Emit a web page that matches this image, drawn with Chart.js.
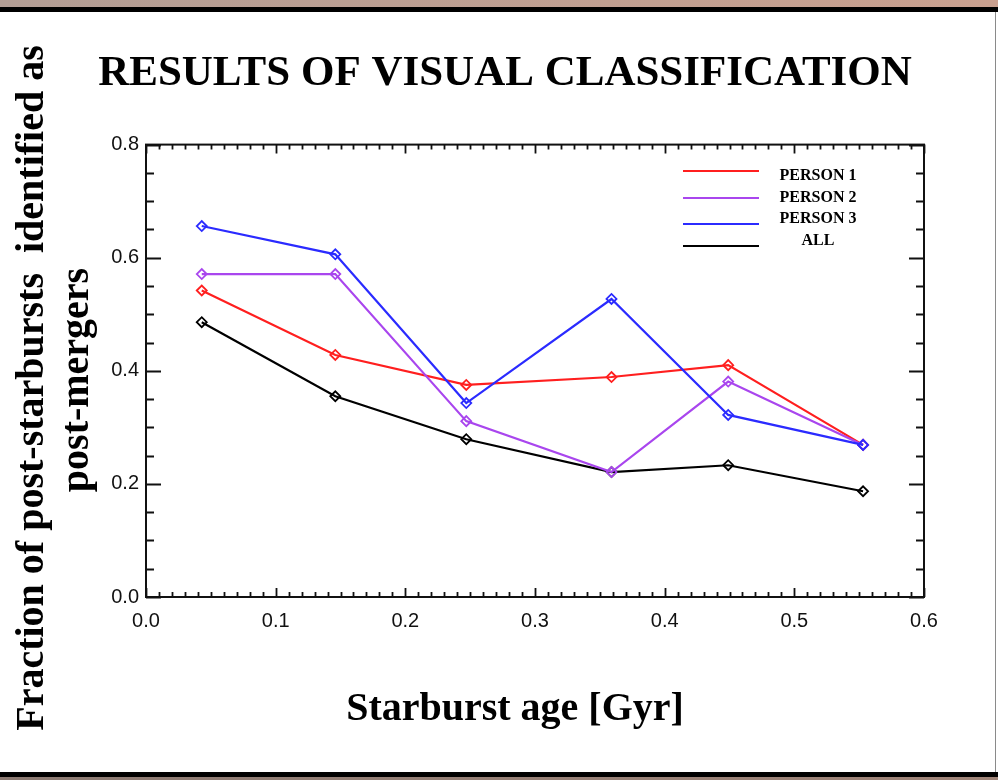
<!DOCTYPE html>
<html>
<head>
<meta charset="utf-8">
<title>Results of visual classification</title>
<script src="https://cdn.jsdelivr.net/npm/chart.js@4.4.1/dist/chart.umd.min.js"></script>
<style>
  html, body { margin: 0; padding: 0; }
  body { width: 998px; height: 780px; position: relative; overflow: hidden; background: #fff; }
  .band { position: absolute; left: 0; width: 998px; }
  #topBand { top: 0; height: 7px; background: linear-gradient(to right, #b29d94, #c9a08f); }
  #topBlack { top: 7px; height: 5px; background: #000; }
  #page { top: 12px; height: 760px; background: #fff; width: 995px; border-right: 1px solid #8a8a8a; }
  #botBlack { top: 772px; height: 5px; background: #000; }
  #botBand { top: 777px; height: 3px; background: linear-gradient(to right, #8c7a72, #a08478); }
  #chart { position: absolute; left: 0; top: 0; }
</style>
</head>
<body>
<div class="band" id="topBand"></div>
<div class="band" id="topBlack"></div>
<div class="band" id="page"></div>
<div class="band" id="botBlack"></div>
<div class="band" id="botBand"></div>
<canvas id="chart" width="998" height="780"></canvas>

<script>
// starburst age of each bin [Gyr]
const ages = [0.043, 0.146, 0.247, 0.359, 0.449, 0.553];

// fraction identified as post-mergers
const person1 = [0.542, 0.428, 0.375, 0.389, 0.410, 0.269];
const person2 = [0.571, 0.571, 0.311, 0.221, 0.381, 0.269];
const person3 = [0.656, 0.606, 0.343, 0.527, 0.322, 0.269];
const allVotes = [0.486, 0.355, 0.279, 0.221, 0.233, 0.187];

const seriesNames = ["PERSON 1", "PERSON 2", "PERSON 3", "ALL"];
const seriesColors = ["#ff1f1f", "#a946ee", "#2b2bff", "#000000"];

const xTicks = [0.0, 0.1, 0.2, 0.3, 0.4, 0.5, 0.6];
const yTicks = [0.0, 0.2, 0.4, 0.6, 0.8];

const chartTitle = "RESULTS OF VISUAL CLASSIFICATION";
const xTitle = "Starburst age [Gyr]";
const yTitle = ["Fraction of post-starbursts  identified as", "post-mergers"];

const serif = '"Liberation Serif", "Times New Roman", serif';
const sans = '"Liberation Sans", Arial, sans-serif';

function makeDataset(label, values, color, order) {
    return {
        label: label,
        data: ages.map((a, i) => ({ x: a, y: values[i] })),
        borderColor: color,
        backgroundColor: "rgba(0,0,0,0)",
        borderWidth: 2.2,
        pointStyle: "rectRot",
        pointRadius: 5,
        pointBorderWidth: 1.8,
        pointBorderColor: color,
        pointBackgroundColor: "rgba(0,0,0,0)",
        tension: 0,
        order: order
    };
}

// box round the plot with inward ticks, major and minor, on all four sides
const frameTicks = {
    id: "frameTicks",
    afterDraw(chart) {
        const { ctx, chartArea: a, scales: { x, y } } = chart;
        ctx.save();
        ctx.strokeStyle = "#111";
        ctx.lineWidth = 2;
        ctx.strokeRect(a.left, a.top, a.right - a.left, a.bottom - a.top);

        ctx.beginPath();
        for (let i = 0; i <= 60; i++) {
            let px = Math.round(x.getPixelForValue(i * 0.01)) + 0.5;
            let len = i % 10 === 0 ? 9 : 5;
            ctx.moveTo(px, a.bottom); ctx.lineTo(px, a.bottom - len);
            ctx.moveTo(px, a.top); ctx.lineTo(px, a.top + len);
        }
        for (let i = 0; i <= 16; i++) {
            let py = Math.round(y.getPixelForValue(i * 0.05)) + 0.5;
            let len = i % 4 === 0 ? 15 : 8;
            ctx.moveTo(a.left, py); ctx.lineTo(a.left + len, py);
            ctx.moveTo(a.right, py); ctx.lineTo(a.right - len, py);
        }
        ctx.lineWidth = 1.8;
        ctx.stroke();
        ctx.restore();
    }
};

// legend box inside the plot, top right
const innerLegend = {
    id: "innerLegend",
    afterDraw(chart) {
        const ctx = chart.ctx;
        const lineY = [171, 198, 224, 246];
        const textY = [176, 198, 219, 241];
        ctx.save();
        ctx.font = "bold 16px " + serif;
        ctx.textAlign = "center";
        ctx.textBaseline = "middle";
        chart.data.datasets.forEach((ds, i) => {
            ctx.strokeStyle = ds.borderColor;
            ctx.lineWidth = 2;
            ctx.beginPath();
            ctx.moveTo(683, lineY[i]);
            ctx.lineTo(759, lineY[i]);
            ctx.stroke();
            ctx.fillStyle = "#000";
            ctx.fillText(ds.label, 818, textY[i]);
        });
        ctx.restore();
    }
};

// axis titles
const axisTitles = {
    id: "axisTitles",
    afterDraw(chart) {
        const ctx = chart.ctx;
        ctx.save();
        ctx.fillStyle = "#000";
        ctx.font = "bold 40px " + serif;
        ctx.textAlign = "center";
        ctx.textBaseline = "alphabetic";
        ctx.fillText(xTitle, 515, 720);

        ctx.save();
        ctx.translate(43, 388);
        ctx.rotate(-Math.PI / 2);
        ctx.fillText(yTitle[0], 0, 0);
        ctx.restore();

        ctx.translate(88, 380);
        ctx.rotate(-Math.PI / 2);
        ctx.fillText(yTitle[1], 0, 0);
        ctx.restore();
    }
};

new Chart(document.getElementById("chart"), {
    type: "line",
    data: {
        datasets: [
            makeDataset(seriesNames[0], person1, seriesColors[0], 2),
            makeDataset(seriesNames[1], person2, seriesColors[1], 1),
            makeDataset(seriesNames[2], person3, seriesColors[2], 0),
            makeDataset(seriesNames[3], allVotes, seriesColors[3], 3)
        ]
    },
    options: {
        responsive: false,
        animation: false,
        layout: { padding: { left: 86, right: 74, top: 0, bottom: 0 } },
        plugins: {
            legend: { display: false },
            tooltip: { enabled: false },
            title: {
                display: true,
                text: chartTitle,
                color: "#000",
                font: { family: serif, size: 43, weight: "bold", lineHeight: 1.2 },
                padding: { top: 48, bottom: 45 }
            }
        },
        scales: {
            x: {
                type: "linear",
                min: 0,
                max: 0.6,
                afterBuildTicks: s => { s.ticks = xTicks.map(v => ({ value: v })); },
                afterFit: s => { s.height = 183; },
                grid: { display: false, drawTicks: false },
                border: { display: false },
                ticks: {
                    padding: 12,
                    color: "#111",
                    font: { family: sans, size: 20 },
                    callback: v => v.toFixed(1)
                }
            },
            y: {
                type: "linear",
                min: 0,
                max: 0.8,
                afterBuildTicks: s => { s.ticks = yTicks.map(v => ({ value: v })); },
                afterFit: s => { s.width = 60; },
                grid: { display: false, drawTicks: false },
                border: { display: false },
                ticks: {
                    padding: 7,
                    color: "#111",
                    font: { family: sans, size: 20 },
                    callback: v => v.toFixed(1)
                }
            }
        }
    },
    plugins: [frameTicks, innerLegend, axisTitles]
});
</script>
</body>
</html>
